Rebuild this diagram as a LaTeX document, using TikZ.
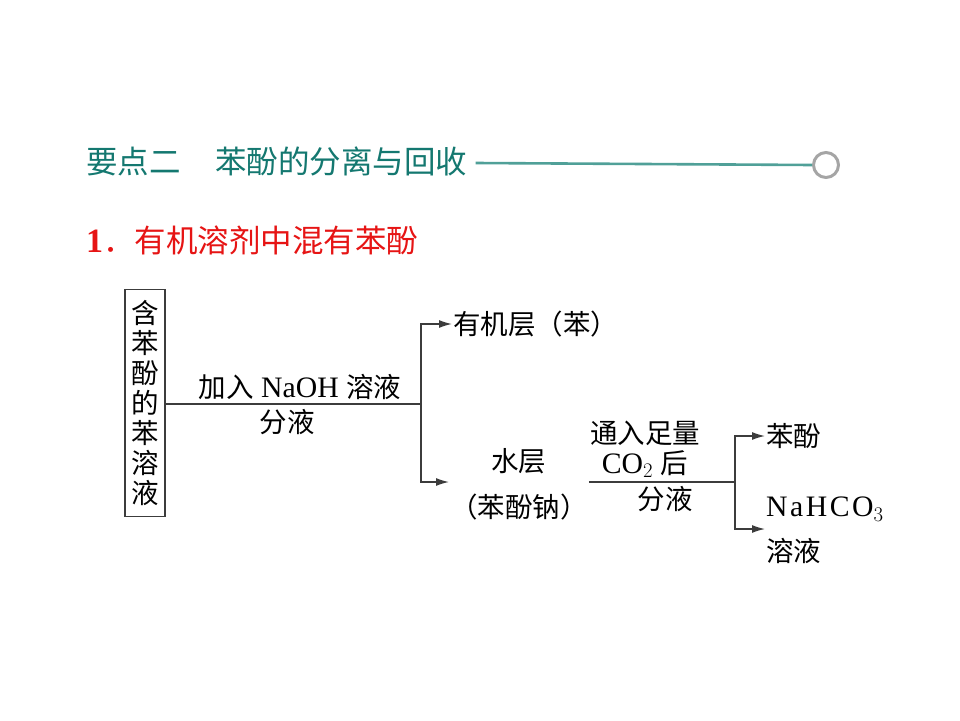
\documentclass[tikz,border=0pt]{standalone}
\usepackage{fontspec}
\setmainfont{Liberation Serif}[Scale=1.08]
\newfontfamily\cjk{Noto Sans CJK SC}
\usetikzlibrary{positioning,calc,arrows.meta}
\definecolor{headteal}{RGB}{20,120,112}
\definecolor{ruleteal}{RGB}{80,160,152}
\definecolor{ringgray}{RGB}{165,165,165}
\definecolor{headred}{RGB}{230,20,20}
\definecolor{flowgray}{RGB}{60,60,60}
\newcommand{\zh}[1]{{\cjk #1}}

\begin{document}
\begin{tikzpicture}[x=1pt,y=-1pt,
  txt/.style={inner sep=1pt,font=\fontsize{27.5}{30}\selectfont},
  flow/.style={draw=flowgray,line width=1.3pt},
  arr/.style={flow,-{Latex[length=13pt,width=8pt]}}]
\useasboundingbox (0,0) rectangle (960,720);

% heading
\node[anchor=west,inner sep=0,text=headteal,font=\fontsize{31.5}{32}\selectfont] (head) at (86,161) {\zh{要点二\hspace{1.1em}苯酚的分离与回收}};
\node[circle,draw=ringgray,line width=3pt,minimum size=25pt,inner sep=0] (ring) at (826,165) {};
\draw[ruleteal,line width=2.6pt] ($(head.east)+(8,2)$) -- (ring.west);
\node[anchor=west,inner sep=0,text=headred,font=\fontsize{31.5}{32}\selectfont] (sub) at (86,240) {\textbf{1}\zh{．有机溶剂中混有苯酚}};

% start box
\node[txt,draw=flowgray,line width=1.2pt,align=center,minimum width=40pt,minimum height=227pt,inner sep=0] (src) at (145,403)
  {\zh{含}\\\zh{苯}\\\zh{酚}\\\zh{的}\\\zh{苯}\\\zh{溶}\\\zh{液}};

% first split
\coordinate (s1) at (421,404);
\node[txt,anchor=west] (org) at (452,324) {\zh{有机层（苯）}};
\node[txt,anchor=west,align=center,font=\fontsize{27.5}{46}\selectfont] (aq) at (449,484) {\zh{水层}\\\zh{（苯酚钠）}};
\draw[flow] (src.east |- s1) -- (s1);
\draw[arr] (s1) |- (org.west);
\draw[arr] (s1) |- (aq.west |- 0,482);
\node[txt,anchor=south] (c1) at (300,401) {\zh{加入} NaOH \zh{溶液}};
\node[txt,anchor=north] (c2) at (287,408) {\zh{分液}};

% second split
\coordinate (s2) at (735,482);
\node[txt,anchor=west] (phen) at (765,436) {\zh{苯酚}};
\node[txt,anchor=west,align=left,font=\fontsize{27.5}{45}\selectfont] (bicarb) at (765,530) {N\kern2.5pt a\kern2.5pt H\kern2.5pt C\kern2.5pt O$_3$\\\zh{溶液}};
\draw[flow] (aq.east |- s2) -- (s2);
\draw[arr] (s2) |- (phen.west);
\draw[arr] (s2) |- (bicarb.west |- 0,529);
\node[txt,anchor=south,align=center] (c3) at (645,479) {\zh{通入足量}\\CO$_2$ \zh{后}};
\node[txt,anchor=north] (c4) at (665,485) {\zh{分液}};
\end{tikzpicture}
\end{document}
